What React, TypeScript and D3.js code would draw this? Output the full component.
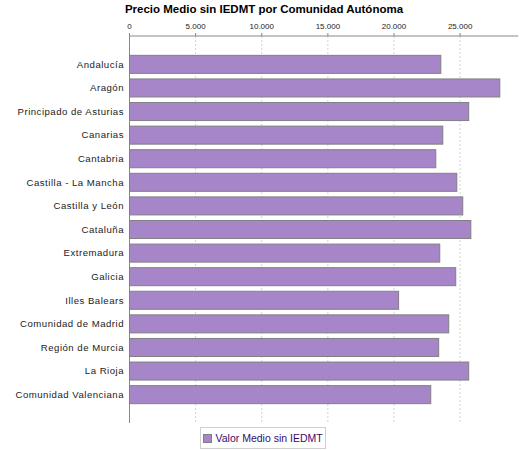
import React from "react";
import * as d3 from "d3";

const categories: string[] = [
  "Andalucía",
  "Aragón",
  "Principado de Asturias",
  "Canarias",
  "Cantabria",
  "Castilla - La Mancha",
  "Castilla y León",
  "Cataluña",
  "Extremadura",
  "Galicia",
  "Illes Balears",
  "Comunidad de Madrid",
  "Región de Murcia",
  "La Rioja",
  "Comunidad Valenciana",
];

const values: number[] = [
  23540, 28000, 25650, 23690, 23160, 24750, 25200, 25810, 23460, 24670, 20350,
  24140, 23380, 25650, 22780,
];

const tickValues: number[] = [0, 5000, 10000, 15000, 20000, 25000];
const tickLabels: string[] = ["0", "5.000", "10.000", "15.000", "20.000", "25.000"];

const title = "Precio Medio sin IEDMT por Comunidad Autónoma";
const seriesName = "Valor Medio sin IEDMT";

const W = 525;
const H = 450;
const left = 129.5;
const right = 518.3;
const top = 36;
const bottom = 423;

export default function App() {
  const x = d3.scaleLinear().domain([0, 29400]).range([left, right]);
  const y = d3
    .scaleBand<string>()
    .domain(categories)
    .range([top, bottom])
    .paddingInner(0.236)
    .paddingOuter(0.82);

  const fill = "#a686c8";
  const stroke = "#808080";

  return (
    <svg
      width={W}
      height={H}
      style={{ position: "absolute", left: 0, top: 0, background: "#fff" }}
      fontFamily="'Liberation Sans', Arial, sans-serif"
    >
      <rect x={0} y={0} width={W} height={H} fill="#fff" />
      <text
        x={264}
        y={13}
        textAnchor="middle"
        fontSize={11.5}
        fontWeight="bold"
        fill="#000"
      >
        {title}
      </text>

      {/* gridlines */}
      {tickValues.slice(1).map((t) => (
        <line
          key={"g" + t}
          x1={x(t)}
          x2={x(t)}
          y1={top}
          y2={bottom}
          stroke="#d4d4d4"
          strokeWidth={1}
          strokeDasharray="2,2"
        />
      ))}

      {/* top axis */}
      <line x1={left} x2={right} y1={top} y2={top} stroke="#888" strokeWidth={1} />
      {tickValues.map((t, i) => (
        <g key={"t" + t}>
          <line x1={x(t)} x2={x(t)} y1={top - 3} y2={top} stroke="#888" strokeWidth={1} />
          <text
            x={x(t)}
            y={29.3}
            textAnchor="middle"
            fontSize={8}
            fill="#222"
          >
            {tickLabels[i]}
          </text>
        </g>
      ))}

      {/* left axis */}
      <line x1={left} x2={left} y1={top} y2={bottom} stroke="#888" strokeWidth={1} />

      {/* bars */}
      {categories.map((c, i) => (
        <rect
          key={"b" + c}
          x={x(0)}
          y={y(c)!}
          width={x(values[i]) - x(0)}
          height={y.bandwidth()}
          fill={fill}
          stroke={stroke}
          strokeWidth={1}
        />
      ))}

      {/* category labels */}
      {categories.map((c) => (
        <text
          key={"l" + c}
          x={124}
          y={y(c)! + y.bandwidth() / 2}
          dy="0.35em"
          textAnchor="end"
          fontSize={9.6}
          letterSpacing={0.5}
          fill="#222"
        >
          {c}
        </text>
      ))}

      {/* legend */}
      <rect x={200.5} y={427.5} width={125} height={21} fill="#fff" stroke="#d0d0d0" strokeWidth={1} />
      <rect x={203.5} y={434.5} width={8} height={8} fill={fill} stroke={stroke} strokeWidth={1} />
      <text x={215.5} y={442.3} fontSize={10.5} fill="#3a0a6e">
        {seriesName}
      </text>
    </svg>
  );
}
